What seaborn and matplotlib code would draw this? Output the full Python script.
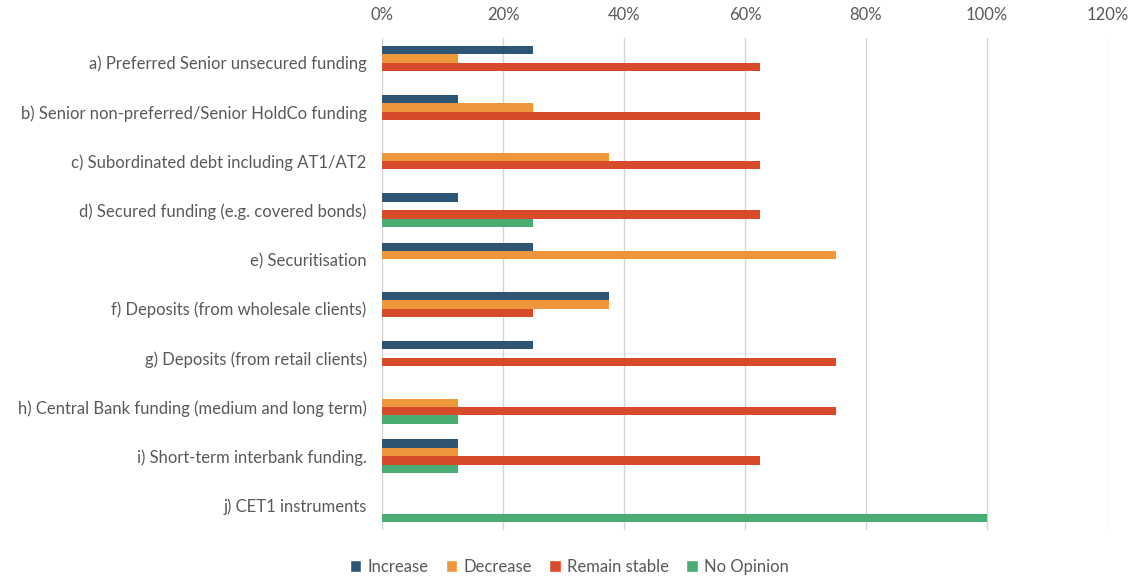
import matplotlib
matplotlib.use("Agg")
import matplotlib.pyplot as plt
import seaborn as sns
import pandas as pd
from matplotlib.ticker import PercentFormatter
from matplotlib.patches import Patch

categories = [
    "a) Preferred Senior unsecured funding",
    "b) Senior non-preferred/Senior HoldCo funding",
    "c) Subordinated debt including AT1/AT2",
    "d) Secured funding (e.g. covered bonds)",
    "e) Securitisation",
    "f) Deposits (from wholesale clients)",
    "g) Deposits (from retail clients)",
    "h) Central Bank funding (medium and long term)",
    "i) Short-term interbank funding.",
    "j) CET1 instruments",
]
series = ["Increase", "Decrease", "Remain stable", "No Opinion"]
increase = [0.25, 0.125, 0.0, 0.125, 0.25, 0.375, 0.25, 0.0, 0.125, 0.0]
decrease = [0.125, 0.25, 0.375, 0.0, 0.75, 0.375, 0.0, 0.125, 0.125, 0.0]
remain = [0.625, 0.625, 0.625, 0.625, 0.0, 0.25, 0.75, 0.75, 0.625, 0.0]
no_opinion = [0.0, 0.0, 0.0, 0.25, 0.0, 0.0, 0.0, 0.125, 0.125, 1.0]

colors = ["#2E5573", "#EE963C", "#D84B2A", "#49AC73"]

rows = []
for s, vals in zip(series, [increase, decrease, remain, no_opinion]):
    for c, v in zip(categories, vals):
        rows.append({"category": c, "series": s, "value": v})
df = pd.DataFrame(rows)

sns.set_theme(style="white")
plt.rcParams["font.family"] = ["Lato", "DejaVu Sans"]

fig = plt.figure(figsize=(11.39, 5.80), dpi=100)
ax = fig.add_axes([382 / 1139, 1 - 530 / 580, (1108 - 382) / 1139, (530 - 38) / 580])

sns.barplot(data=df, y="category", x="value", hue="series", order=categories,
            hue_order=series, palette=colors, orient="h", width=0.68,
            saturation=1, ax=ax, legend=False, linewidth=0)

ax.set_xlim(0, 1.2)
ax.set_xticks([0, 0.2, 0.4, 0.6, 0.8, 1.0, 1.2])
ax.xaxis.set_major_formatter(PercentFormatter(1.0, decimals=0))
ax.xaxis.tick_top()
ax.tick_params(axis="x", length=0, pad=11, labelsize=12, labelcolor="#595959")
ax.tick_params(axis="y", length=0, pad=11, labelsize=12, labelcolor="#595959")
ax.set_xlabel("")
ax.set_ylabel("")
ax.grid(axis="x", color="#D4D4D4", linewidth=1)
ax.set_axisbelow(True)
for sp in ax.spines.values():
    sp.set_visible(False)

handles = [Patch(facecolor=c, label=s) for c, s in zip(colors, series)]
fig.legend(handles=handles, loc="center", bbox_to_anchor=(0.5, 1 - 567 / 580),
           ncol=4, frameon=False, fontsize=12, handlelength=0.7, handleheight=0.7,
           handletextpad=0.4, columnspacing=1.0, labelcolor="#595959")

fig.savefig("out.png", dpi=100)
